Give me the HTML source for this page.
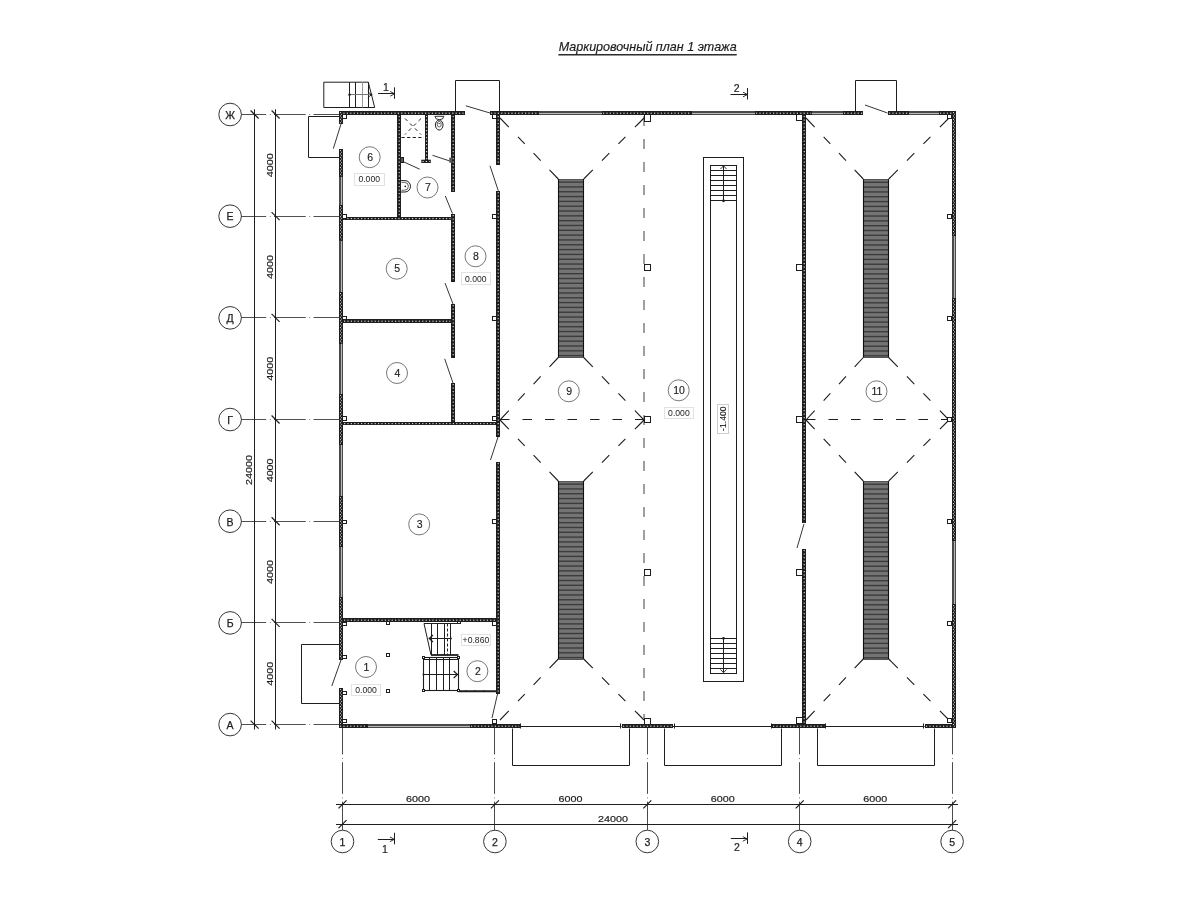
<!DOCTYPE html>
<html><head><meta charset="utf-8"><style>
html,body{margin:0;padding:0;background:#fff;width:1200px;height:900px;overflow:hidden}
svg{display:block;will-change:transform;font-family:"Liberation Sans",sans-serif}
</style></head><body>
<svg width="1200" height="900" viewBox="0 0 1200 900">
<line x1="234.50" y1="114.50" x2="339.00" y2="114.50" stroke="#505050" stroke-width="1.0" stroke-dasharray="31.7 3.7 0.7 3.4" stroke-linecap="butt"/>
<line x1="234.50" y1="216.50" x2="339.00" y2="216.50" stroke="#505050" stroke-width="1.0" stroke-dasharray="31.7 3.7 0.7 3.4" stroke-linecap="butt"/>
<line x1="234.50" y1="317.50" x2="339.00" y2="317.50" stroke="#505050" stroke-width="1.0" stroke-dasharray="31.7 3.7 0.7 3.4" stroke-linecap="butt"/>
<line x1="234.50" y1="419.50" x2="339.00" y2="419.50" stroke="#505050" stroke-width="1.0" stroke-dasharray="31.7 3.7 0.7 3.4" stroke-linecap="butt"/>
<line x1="234.50" y1="521.50" x2="339.00" y2="521.50" stroke="#505050" stroke-width="1.0" stroke-dasharray="31.7 3.7 0.7 3.4" stroke-linecap="butt"/>
<line x1="234.50" y1="622.50" x2="339.00" y2="622.50" stroke="#505050" stroke-width="1.0" stroke-dasharray="31.7 3.7 0.7 3.4" stroke-linecap="butt"/>
<line x1="234.50" y1="724.50" x2="339.00" y2="724.50" stroke="#505050" stroke-width="1.0" stroke-dasharray="31.7 3.7 0.7 3.4" stroke-linecap="butt"/>
<line x1="342.50" y1="722.70" x2="342.50" y2="830.00" stroke="#4a4a4a" stroke-width="1.0" stroke-dasharray="31.7 3.7 0.7 3.4" stroke-linecap="butt"/>
<line x1="494.50" y1="722.70" x2="494.50" y2="830.00" stroke="#4a4a4a" stroke-width="1.0" stroke-dasharray="31.7 3.7 0.7 3.4" stroke-linecap="butt"/>
<line x1="647.50" y1="722.70" x2="647.50" y2="830.00" stroke="#4a4a4a" stroke-width="1.0" stroke-dasharray="31.7 3.7 0.7 3.4" stroke-linecap="butt"/>
<line x1="799.50" y1="722.70" x2="799.50" y2="830.00" stroke="#4a4a4a" stroke-width="1.0" stroke-dasharray="31.7 3.7 0.7 3.4" stroke-linecap="butt"/>
<line x1="952.50" y1="722.70" x2="952.50" y2="830.00" stroke="#4a4a4a" stroke-width="1.0" stroke-dasharray="31.7 3.7 0.7 3.4" stroke-linecap="butt"/>
<line x1="254.50" y1="109.30" x2="254.50" y2="729.50" stroke="#1e1e1e" stroke-width="1.0" stroke-linecap="butt"/>
<line x1="275.50" y1="109.30" x2="275.50" y2="729.50" stroke="#1e1e1e" stroke-width="1.0" stroke-linecap="butt"/>
<line x1="271.60" y1="110.50" x2="279.60" y2="118.50" stroke="#1e1e1e" stroke-width="1.2" stroke-linecap="butt"/>
<line x1="271.60" y1="212.18" x2="279.60" y2="220.18" stroke="#1e1e1e" stroke-width="1.2" stroke-linecap="butt"/>
<line x1="271.60" y1="313.86" x2="279.60" y2="321.86" stroke="#1e1e1e" stroke-width="1.2" stroke-linecap="butt"/>
<line x1="271.60" y1="415.54" x2="279.60" y2="423.54" stroke="#1e1e1e" stroke-width="1.2" stroke-linecap="butt"/>
<line x1="271.60" y1="517.22" x2="279.60" y2="525.22" stroke="#1e1e1e" stroke-width="1.2" stroke-linecap="butt"/>
<line x1="271.60" y1="618.90" x2="279.60" y2="626.90" stroke="#1e1e1e" stroke-width="1.2" stroke-linecap="butt"/>
<line x1="271.60" y1="720.58" x2="279.60" y2="728.58" stroke="#1e1e1e" stroke-width="1.2" stroke-linecap="butt"/>
<line x1="250.60" y1="110.50" x2="258.60" y2="118.50" stroke="#1e1e1e" stroke-width="1.2" stroke-linecap="butt"/>
<line x1="250.60" y1="720.58" x2="258.60" y2="728.58" stroke="#1e1e1e" stroke-width="1.2" stroke-linecap="butt"/>
<text x="0" y="0" font-size="9.8" text-anchor="middle" dominant-baseline="central" transform="translate(269.50 165.34) rotate(-90) scale(1.1 1)" fill="#1e1e1e" stroke="#1e1e1e" stroke-width="0.2" >4000</text>
<text x="0" y="0" font-size="9.8" text-anchor="middle" dominant-baseline="central" transform="translate(269.50 267.02) rotate(-90) scale(1.1 1)" fill="#1e1e1e" stroke="#1e1e1e" stroke-width="0.2" >4000</text>
<text x="0" y="0" font-size="9.8" text-anchor="middle" dominant-baseline="central" transform="translate(269.50 368.70) rotate(-90) scale(1.1 1)" fill="#1e1e1e" stroke="#1e1e1e" stroke-width="0.2" >4000</text>
<text x="0" y="0" font-size="9.8" text-anchor="middle" dominant-baseline="central" transform="translate(269.50 470.38) rotate(-90) scale(1.1 1)" fill="#1e1e1e" stroke="#1e1e1e" stroke-width="0.2" >4000</text>
<text x="0" y="0" font-size="9.8" text-anchor="middle" dominant-baseline="central" transform="translate(269.50 572.06) rotate(-90) scale(1.1 1)" fill="#1e1e1e" stroke="#1e1e1e" stroke-width="0.2" >4000</text>
<text x="0" y="0" font-size="9.8" text-anchor="middle" dominant-baseline="central" transform="translate(269.50 673.74) rotate(-90) scale(1.1 1)" fill="#1e1e1e" stroke="#1e1e1e" stroke-width="0.2" >4000</text>
<text x="0" y="0" font-size="9.8" text-anchor="middle" dominant-baseline="central" transform="translate(249.00 470.00) rotate(-90) scale(1.1 1)" fill="#1e1e1e" stroke="#1e1e1e" stroke-width="0.2" >24000</text>
<line x1="336.00" y1="804.50" x2="958.00" y2="804.50" stroke="#1e1e1e" stroke-width="1.0" stroke-linecap="butt"/>
<line x1="336.00" y1="824.50" x2="958.00" y2="824.50" stroke="#1e1e1e" stroke-width="1.0" stroke-linecap="butt"/>
<line x1="338.50" y1="808.40" x2="346.50" y2="800.40" stroke="#1e1e1e" stroke-width="1.2" stroke-linecap="butt"/>
<line x1="490.90" y1="808.40" x2="498.90" y2="800.40" stroke="#1e1e1e" stroke-width="1.2" stroke-linecap="butt"/>
<line x1="643.30" y1="808.40" x2="651.30" y2="800.40" stroke="#1e1e1e" stroke-width="1.2" stroke-linecap="butt"/>
<line x1="795.70" y1="808.40" x2="803.70" y2="800.40" stroke="#1e1e1e" stroke-width="1.2" stroke-linecap="butt"/>
<line x1="948.10" y1="808.40" x2="956.10" y2="800.40" stroke="#1e1e1e" stroke-width="1.2" stroke-linecap="butt"/>
<line x1="338.50" y1="828.20" x2="346.50" y2="820.20" stroke="#1e1e1e" stroke-width="1.2" stroke-linecap="butt"/>
<line x1="948.10" y1="828.20" x2="956.10" y2="820.20" stroke="#1e1e1e" stroke-width="1.2" stroke-linecap="butt"/>
<text x="0" y="0" font-size="9.8" text-anchor="middle" dominant-baseline="central" transform="translate(418.00 798.80) scale(1.1 1)" fill="#1e1e1e" stroke="#1e1e1e" stroke-width="0.2" >6000</text>
<text x="0" y="0" font-size="9.8" text-anchor="middle" dominant-baseline="central" transform="translate(570.40 798.80) scale(1.1 1)" fill="#1e1e1e" stroke="#1e1e1e" stroke-width="0.2" >6000</text>
<text x="0" y="0" font-size="9.8" text-anchor="middle" dominant-baseline="central" transform="translate(722.80 798.80) scale(1.1 1)" fill="#1e1e1e" stroke="#1e1e1e" stroke-width="0.2" >6000</text>
<text x="0" y="0" font-size="9.8" text-anchor="middle" dominant-baseline="central" transform="translate(875.20 798.80) scale(1.1 1)" fill="#1e1e1e" stroke="#1e1e1e" stroke-width="0.2" >6000</text>
<text x="0" y="0" font-size="9.8" text-anchor="middle" dominant-baseline="central" transform="translate(613.00 818.80) scale(1.1 1)" fill="#1e1e1e" stroke="#1e1e1e" stroke-width="0.2" >24000</text>
<circle cx="230.1" cy="114.50" r="11.3" stroke="#1e1e1e" stroke-width="0.9" fill="#fff"/>
<text x="0" y="0" font-size="10.5" text-anchor="middle" dominant-baseline="central" transform="translate(230.10 114.80)" fill="#1e1e1e" stroke="#1e1e1e" stroke-width="0.25" >Ж</text>
<circle cx="230.1" cy="216.18" r="11.3" stroke="#1e1e1e" stroke-width="0.9" fill="#fff"/>
<text x="0" y="0" font-size="10.5" text-anchor="middle" dominant-baseline="central" transform="translate(230.10 216.48)" fill="#1e1e1e" stroke="#1e1e1e" stroke-width="0.25" >Е</text>
<circle cx="230.1" cy="317.86" r="11.3" stroke="#1e1e1e" stroke-width="0.9" fill="#fff"/>
<text x="0" y="0" font-size="10.5" text-anchor="middle" dominant-baseline="central" transform="translate(230.10 318.16)" fill="#1e1e1e" stroke="#1e1e1e" stroke-width="0.25" >Д</text>
<circle cx="230.1" cy="419.54" r="11.3" stroke="#1e1e1e" stroke-width="0.9" fill="#fff"/>
<text x="0" y="0" font-size="10.5" text-anchor="middle" dominant-baseline="central" transform="translate(230.10 419.84)" fill="#1e1e1e" stroke="#1e1e1e" stroke-width="0.25" >Г</text>
<circle cx="230.1" cy="521.22" r="11.3" stroke="#1e1e1e" stroke-width="0.9" fill="#fff"/>
<text x="0" y="0" font-size="10.5" text-anchor="middle" dominant-baseline="central" transform="translate(230.10 521.52)" fill="#1e1e1e" stroke="#1e1e1e" stroke-width="0.25" >В</text>
<circle cx="230.1" cy="622.90" r="11.3" stroke="#1e1e1e" stroke-width="0.9" fill="#fff"/>
<text x="0" y="0" font-size="10.5" text-anchor="middle" dominant-baseline="central" transform="translate(230.10 623.20)" fill="#1e1e1e" stroke="#1e1e1e" stroke-width="0.25" >Б</text>
<circle cx="230.1" cy="724.58" r="11.3" stroke="#1e1e1e" stroke-width="0.9" fill="#fff"/>
<text x="0" y="0" font-size="10.5" text-anchor="middle" dominant-baseline="central" transform="translate(230.10 724.88)" fill="#1e1e1e" stroke="#1e1e1e" stroke-width="0.25" >А</text>
<circle cx="342.50" cy="841.5" r="11.3" stroke="#1e1e1e" stroke-width="0.9" fill="#fff"/>
<text x="0" y="0" font-size="10.5" text-anchor="middle" dominant-baseline="central" transform="translate(342.50 841.80)" fill="#1e1e1e" stroke="#1e1e1e" stroke-width="0.25" >1</text>
<circle cx="494.90" cy="841.5" r="11.3" stroke="#1e1e1e" stroke-width="0.9" fill="#fff"/>
<text x="0" y="0" font-size="10.5" text-anchor="middle" dominant-baseline="central" transform="translate(494.90 841.80)" fill="#1e1e1e" stroke="#1e1e1e" stroke-width="0.25" >2</text>
<circle cx="647.30" cy="841.5" r="11.3" stroke="#1e1e1e" stroke-width="0.9" fill="#fff"/>
<text x="0" y="0" font-size="10.5" text-anchor="middle" dominant-baseline="central" transform="translate(647.30 841.80)" fill="#1e1e1e" stroke="#1e1e1e" stroke-width="0.25" >3</text>
<circle cx="799.70" cy="841.5" r="11.3" stroke="#1e1e1e" stroke-width="0.9" fill="#fff"/>
<text x="0" y="0" font-size="10.5" text-anchor="middle" dominant-baseline="central" transform="translate(799.70 841.80)" fill="#1e1e1e" stroke="#1e1e1e" stroke-width="0.25" >4</text>
<circle cx="952.10" cy="841.5" r="11.3" stroke="#1e1e1e" stroke-width="0.9" fill="#fff"/>
<text x="0" y="0" font-size="10.5" text-anchor="middle" dominant-baseline="central" transform="translate(952.10 841.80)" fill="#1e1e1e" stroke="#1e1e1e" stroke-width="0.25" >5</text>
<text x="647.7" y="47.1" stroke="#1e1e1e" stroke-width="0.2" font-size="12.55" text-anchor="middle" dominant-baseline="central" font-style="italic" fill="#1e1e1e" text-decoration="underline">Маркировочный план 1 этажа</text>
<line x1="644.00" y1="115.90" x2="644.00" y2="718.00" stroke="#888" stroke-width="1.6" stroke-dasharray="10 13" stroke-linecap="butt"/>
<line x1="500.00" y1="118.00" x2="558.30" y2="179.00" stroke="#1e1e1e" stroke-width="1.1" stroke-dasharray="12.76 13.25 9.81 12.76 10.30 12.76 12.76" stroke-linecap="butt"/>
<line x1="644.00" y1="118.00" x2="583.70" y2="179.00" stroke="#1e1e1e" stroke-width="1.1" stroke-dasharray="12.97 13.46 9.97 12.97 10.47 12.97 12.97" stroke-linecap="butt"/>
<line x1="500.00" y1="420.00" x2="558.30" y2="357.50" stroke="#1e1e1e" stroke-width="1.1" stroke-dasharray="12.92 13.42 9.94 12.92 10.44 12.92 12.92" stroke-linecap="butt"/>
<line x1="644.00" y1="420.00" x2="583.70" y2="357.50" stroke="#1e1e1e" stroke-width="1.1" stroke-dasharray="13.13 13.63 10.10 13.13 10.60 13.13 13.13" stroke-linecap="butt"/>
<line x1="500.00" y1="420.00" x2="558.30" y2="481.00" stroke="#1e1e1e" stroke-width="1.1" stroke-dasharray="12.76 13.25 9.81 12.76 10.30 12.76 12.76" stroke-linecap="butt"/>
<line x1="644.00" y1="420.00" x2="583.70" y2="481.00" stroke="#1e1e1e" stroke-width="1.1" stroke-dasharray="12.97 13.46 9.97 12.97 10.47 12.97 12.97" stroke-linecap="butt"/>
<line x1="500.00" y1="720.00" x2="558.30" y2="659.00" stroke="#1e1e1e" stroke-width="1.1" stroke-dasharray="12.76 13.25 9.81 12.76 10.30 12.76 12.76" stroke-linecap="butt"/>
<line x1="644.00" y1="720.00" x2="583.70" y2="659.00" stroke="#1e1e1e" stroke-width="1.1" stroke-dasharray="12.97 13.46 9.97 12.97 10.47 12.97 12.97" stroke-linecap="butt"/>
<line x1="500.00" y1="419.50" x2="644.00" y2="419.50" stroke="#1e1e1e" stroke-width="1.0" stroke-dasharray="9.5 13" stroke-linecap="butt"/>
<line x1="806.00" y1="118.00" x2="863.30" y2="179.00" stroke="#1e1e1e" stroke-width="1.1" stroke-dasharray="12.65 13.14 9.73 12.65 10.22 12.65 12.65" stroke-linecap="butt"/>
<line x1="949.00" y1="118.00" x2="888.70" y2="179.00" stroke="#1e1e1e" stroke-width="1.1" stroke-dasharray="12.97 13.46 9.97 12.97 10.47 12.97 12.97" stroke-linecap="butt"/>
<line x1="806.00" y1="420.00" x2="863.30" y2="357.50" stroke="#1e1e1e" stroke-width="1.1" stroke-dasharray="12.82 13.31 9.86 12.82 10.35 12.82 12.82" stroke-linecap="butt"/>
<line x1="949.00" y1="420.00" x2="888.70" y2="357.50" stroke="#1e1e1e" stroke-width="1.1" stroke-dasharray="13.13 13.63 10.10 13.13 10.60 13.13 13.13" stroke-linecap="butt"/>
<line x1="806.00" y1="420.00" x2="863.30" y2="481.00" stroke="#1e1e1e" stroke-width="1.1" stroke-dasharray="12.65 13.14 9.73 12.65 10.22 12.65 12.65" stroke-linecap="butt"/>
<line x1="949.00" y1="420.00" x2="888.70" y2="481.00" stroke="#1e1e1e" stroke-width="1.1" stroke-dasharray="12.97 13.46 9.97 12.97 10.47 12.97 12.97" stroke-linecap="butt"/>
<line x1="806.00" y1="720.00" x2="863.30" y2="659.00" stroke="#1e1e1e" stroke-width="1.1" stroke-dasharray="12.65 13.14 9.73 12.65 10.22 12.65 12.65" stroke-linecap="butt"/>
<line x1="949.00" y1="720.00" x2="888.70" y2="659.00" stroke="#1e1e1e" stroke-width="1.1" stroke-dasharray="12.97 13.46 9.97 12.97 10.47 12.97 12.97" stroke-linecap="butt"/>
<line x1="806.00" y1="419.50" x2="949.00" y2="419.50" stroke="#1e1e1e" stroke-width="1.0" stroke-dasharray="9.5 13" stroke-linecap="butt"/>
<rect x="558.30" y="179.00" width="25.40" height="178.50" fill="#747474"/>
<line x1="558.30" y1="182.10" x2="583.70" y2="182.10" stroke="#3c3c3c" stroke-width="1.4" stroke-linecap="butt"/>
<line x1="558.30" y1="186.92" x2="583.70" y2="186.92" stroke="#3c3c3c" stroke-width="1.4" stroke-linecap="butt"/>
<line x1="558.30" y1="191.74" x2="583.70" y2="191.74" stroke="#3c3c3c" stroke-width="1.4" stroke-linecap="butt"/>
<line x1="558.30" y1="196.56" x2="583.70" y2="196.56" stroke="#3c3c3c" stroke-width="1.4" stroke-linecap="butt"/>
<line x1="558.30" y1="201.38" x2="583.70" y2="201.38" stroke="#3c3c3c" stroke-width="1.4" stroke-linecap="butt"/>
<line x1="558.30" y1="206.20" x2="583.70" y2="206.20" stroke="#3c3c3c" stroke-width="1.4" stroke-linecap="butt"/>
<line x1="558.30" y1="211.02" x2="583.70" y2="211.02" stroke="#3c3c3c" stroke-width="1.4" stroke-linecap="butt"/>
<line x1="558.30" y1="215.84" x2="583.70" y2="215.84" stroke="#3c3c3c" stroke-width="1.4" stroke-linecap="butt"/>
<line x1="558.30" y1="220.66" x2="583.70" y2="220.66" stroke="#3c3c3c" stroke-width="1.4" stroke-linecap="butt"/>
<line x1="558.30" y1="225.48" x2="583.70" y2="225.48" stroke="#3c3c3c" stroke-width="1.4" stroke-linecap="butt"/>
<line x1="558.30" y1="230.30" x2="583.70" y2="230.30" stroke="#3c3c3c" stroke-width="1.4" stroke-linecap="butt"/>
<line x1="558.30" y1="235.12" x2="583.70" y2="235.12" stroke="#3c3c3c" stroke-width="1.4" stroke-linecap="butt"/>
<line x1="558.30" y1="239.94" x2="583.70" y2="239.94" stroke="#3c3c3c" stroke-width="1.4" stroke-linecap="butt"/>
<line x1="558.30" y1="244.76" x2="583.70" y2="244.76" stroke="#3c3c3c" stroke-width="1.4" stroke-linecap="butt"/>
<line x1="558.30" y1="249.58" x2="583.70" y2="249.58" stroke="#3c3c3c" stroke-width="1.4" stroke-linecap="butt"/>
<line x1="558.30" y1="254.40" x2="583.70" y2="254.40" stroke="#3c3c3c" stroke-width="1.4" stroke-linecap="butt"/>
<line x1="558.30" y1="259.22" x2="583.70" y2="259.22" stroke="#3c3c3c" stroke-width="1.4" stroke-linecap="butt"/>
<line x1="558.30" y1="264.04" x2="583.70" y2="264.04" stroke="#3c3c3c" stroke-width="1.4" stroke-linecap="butt"/>
<line x1="558.30" y1="268.86" x2="583.70" y2="268.86" stroke="#3c3c3c" stroke-width="1.4" stroke-linecap="butt"/>
<line x1="558.30" y1="273.68" x2="583.70" y2="273.68" stroke="#3c3c3c" stroke-width="1.4" stroke-linecap="butt"/>
<line x1="558.30" y1="278.50" x2="583.70" y2="278.50" stroke="#3c3c3c" stroke-width="1.4" stroke-linecap="butt"/>
<line x1="558.30" y1="283.32" x2="583.70" y2="283.32" stroke="#3c3c3c" stroke-width="1.4" stroke-linecap="butt"/>
<line x1="558.30" y1="288.14" x2="583.70" y2="288.14" stroke="#3c3c3c" stroke-width="1.4" stroke-linecap="butt"/>
<line x1="558.30" y1="292.96" x2="583.70" y2="292.96" stroke="#3c3c3c" stroke-width="1.4" stroke-linecap="butt"/>
<line x1="558.30" y1="297.78" x2="583.70" y2="297.78" stroke="#3c3c3c" stroke-width="1.4" stroke-linecap="butt"/>
<line x1="558.30" y1="302.60" x2="583.70" y2="302.60" stroke="#3c3c3c" stroke-width="1.4" stroke-linecap="butt"/>
<line x1="558.30" y1="307.42" x2="583.70" y2="307.42" stroke="#3c3c3c" stroke-width="1.4" stroke-linecap="butt"/>
<line x1="558.30" y1="312.24" x2="583.70" y2="312.24" stroke="#3c3c3c" stroke-width="1.4" stroke-linecap="butt"/>
<line x1="558.30" y1="317.06" x2="583.70" y2="317.06" stroke="#3c3c3c" stroke-width="1.4" stroke-linecap="butt"/>
<line x1="558.30" y1="321.88" x2="583.70" y2="321.88" stroke="#3c3c3c" stroke-width="1.4" stroke-linecap="butt"/>
<line x1="558.30" y1="326.70" x2="583.70" y2="326.70" stroke="#3c3c3c" stroke-width="1.4" stroke-linecap="butt"/>
<line x1="558.30" y1="331.52" x2="583.70" y2="331.52" stroke="#3c3c3c" stroke-width="1.4" stroke-linecap="butt"/>
<line x1="558.30" y1="336.34" x2="583.70" y2="336.34" stroke="#3c3c3c" stroke-width="1.4" stroke-linecap="butt"/>
<line x1="558.30" y1="341.16" x2="583.70" y2="341.16" stroke="#3c3c3c" stroke-width="1.4" stroke-linecap="butt"/>
<line x1="558.30" y1="345.98" x2="583.70" y2="345.98" stroke="#3c3c3c" stroke-width="1.4" stroke-linecap="butt"/>
<line x1="558.30" y1="350.80" x2="583.70" y2="350.80" stroke="#3c3c3c" stroke-width="1.4" stroke-linecap="butt"/>
<line x1="558.30" y1="355.62" x2="583.70" y2="355.62" stroke="#3c3c3c" stroke-width="1.4" stroke-linecap="butt"/>
<line x1="558.30" y1="179.50" x2="583.70" y2="179.50" stroke="#555" stroke-width="1.0" stroke-linecap="butt"/>
<line x1="558.30" y1="357.50" x2="583.70" y2="357.50" stroke="#555" stroke-width="1.0" stroke-linecap="butt"/>
<line x1="558.50" y1="179.00" x2="558.50" y2="357.50" stroke="#111" stroke-width="1.1" stroke-linecap="butt"/>
<line x1="583.50" y1="179.00" x2="583.50" y2="357.50" stroke="#111" stroke-width="1.1" stroke-linecap="butt"/>
<rect x="558.30" y="481.00" width="25.40" height="178.00" fill="#747474"/>
<line x1="558.30" y1="484.10" x2="583.70" y2="484.10" stroke="#3c3c3c" stroke-width="1.4" stroke-linecap="butt"/>
<line x1="558.30" y1="488.92" x2="583.70" y2="488.92" stroke="#3c3c3c" stroke-width="1.4" stroke-linecap="butt"/>
<line x1="558.30" y1="493.74" x2="583.70" y2="493.74" stroke="#3c3c3c" stroke-width="1.4" stroke-linecap="butt"/>
<line x1="558.30" y1="498.56" x2="583.70" y2="498.56" stroke="#3c3c3c" stroke-width="1.4" stroke-linecap="butt"/>
<line x1="558.30" y1="503.38" x2="583.70" y2="503.38" stroke="#3c3c3c" stroke-width="1.4" stroke-linecap="butt"/>
<line x1="558.30" y1="508.20" x2="583.70" y2="508.20" stroke="#3c3c3c" stroke-width="1.4" stroke-linecap="butt"/>
<line x1="558.30" y1="513.02" x2="583.70" y2="513.02" stroke="#3c3c3c" stroke-width="1.4" stroke-linecap="butt"/>
<line x1="558.30" y1="517.84" x2="583.70" y2="517.84" stroke="#3c3c3c" stroke-width="1.4" stroke-linecap="butt"/>
<line x1="558.30" y1="522.66" x2="583.70" y2="522.66" stroke="#3c3c3c" stroke-width="1.4" stroke-linecap="butt"/>
<line x1="558.30" y1="527.48" x2="583.70" y2="527.48" stroke="#3c3c3c" stroke-width="1.4" stroke-linecap="butt"/>
<line x1="558.30" y1="532.30" x2="583.70" y2="532.30" stroke="#3c3c3c" stroke-width="1.4" stroke-linecap="butt"/>
<line x1="558.30" y1="537.12" x2="583.70" y2="537.12" stroke="#3c3c3c" stroke-width="1.4" stroke-linecap="butt"/>
<line x1="558.30" y1="541.94" x2="583.70" y2="541.94" stroke="#3c3c3c" stroke-width="1.4" stroke-linecap="butt"/>
<line x1="558.30" y1="546.76" x2="583.70" y2="546.76" stroke="#3c3c3c" stroke-width="1.4" stroke-linecap="butt"/>
<line x1="558.30" y1="551.58" x2="583.70" y2="551.58" stroke="#3c3c3c" stroke-width="1.4" stroke-linecap="butt"/>
<line x1="558.30" y1="556.40" x2="583.70" y2="556.40" stroke="#3c3c3c" stroke-width="1.4" stroke-linecap="butt"/>
<line x1="558.30" y1="561.22" x2="583.70" y2="561.22" stroke="#3c3c3c" stroke-width="1.4" stroke-linecap="butt"/>
<line x1="558.30" y1="566.04" x2="583.70" y2="566.04" stroke="#3c3c3c" stroke-width="1.4" stroke-linecap="butt"/>
<line x1="558.30" y1="570.86" x2="583.70" y2="570.86" stroke="#3c3c3c" stroke-width="1.4" stroke-linecap="butt"/>
<line x1="558.30" y1="575.68" x2="583.70" y2="575.68" stroke="#3c3c3c" stroke-width="1.4" stroke-linecap="butt"/>
<line x1="558.30" y1="580.50" x2="583.70" y2="580.50" stroke="#3c3c3c" stroke-width="1.4" stroke-linecap="butt"/>
<line x1="558.30" y1="585.32" x2="583.70" y2="585.32" stroke="#3c3c3c" stroke-width="1.4" stroke-linecap="butt"/>
<line x1="558.30" y1="590.14" x2="583.70" y2="590.14" stroke="#3c3c3c" stroke-width="1.4" stroke-linecap="butt"/>
<line x1="558.30" y1="594.96" x2="583.70" y2="594.96" stroke="#3c3c3c" stroke-width="1.4" stroke-linecap="butt"/>
<line x1="558.30" y1="599.78" x2="583.70" y2="599.78" stroke="#3c3c3c" stroke-width="1.4" stroke-linecap="butt"/>
<line x1="558.30" y1="604.60" x2="583.70" y2="604.60" stroke="#3c3c3c" stroke-width="1.4" stroke-linecap="butt"/>
<line x1="558.30" y1="609.42" x2="583.70" y2="609.42" stroke="#3c3c3c" stroke-width="1.4" stroke-linecap="butt"/>
<line x1="558.30" y1="614.24" x2="583.70" y2="614.24" stroke="#3c3c3c" stroke-width="1.4" stroke-linecap="butt"/>
<line x1="558.30" y1="619.06" x2="583.70" y2="619.06" stroke="#3c3c3c" stroke-width="1.4" stroke-linecap="butt"/>
<line x1="558.30" y1="623.88" x2="583.70" y2="623.88" stroke="#3c3c3c" stroke-width="1.4" stroke-linecap="butt"/>
<line x1="558.30" y1="628.70" x2="583.70" y2="628.70" stroke="#3c3c3c" stroke-width="1.4" stroke-linecap="butt"/>
<line x1="558.30" y1="633.52" x2="583.70" y2="633.52" stroke="#3c3c3c" stroke-width="1.4" stroke-linecap="butt"/>
<line x1="558.30" y1="638.34" x2="583.70" y2="638.34" stroke="#3c3c3c" stroke-width="1.4" stroke-linecap="butt"/>
<line x1="558.30" y1="643.16" x2="583.70" y2="643.16" stroke="#3c3c3c" stroke-width="1.4" stroke-linecap="butt"/>
<line x1="558.30" y1="647.98" x2="583.70" y2="647.98" stroke="#3c3c3c" stroke-width="1.4" stroke-linecap="butt"/>
<line x1="558.30" y1="652.80" x2="583.70" y2="652.80" stroke="#3c3c3c" stroke-width="1.4" stroke-linecap="butt"/>
<line x1="558.30" y1="657.62" x2="583.70" y2="657.62" stroke="#3c3c3c" stroke-width="1.4" stroke-linecap="butt"/>
<line x1="558.30" y1="481.50" x2="583.70" y2="481.50" stroke="#555" stroke-width="1.0" stroke-linecap="butt"/>
<line x1="558.30" y1="659.50" x2="583.70" y2="659.50" stroke="#555" stroke-width="1.0" stroke-linecap="butt"/>
<line x1="558.50" y1="481.00" x2="558.50" y2="659.00" stroke="#111" stroke-width="1.1" stroke-linecap="butt"/>
<line x1="583.50" y1="481.00" x2="583.50" y2="659.00" stroke="#111" stroke-width="1.1" stroke-linecap="butt"/>
<rect x="863.30" y="179.20" width="25.40" height="178.30" fill="#747474"/>
<line x1="863.30" y1="182.30" x2="888.70" y2="182.30" stroke="#3c3c3c" stroke-width="1.4" stroke-linecap="butt"/>
<line x1="863.30" y1="187.12" x2="888.70" y2="187.12" stroke="#3c3c3c" stroke-width="1.4" stroke-linecap="butt"/>
<line x1="863.30" y1="191.94" x2="888.70" y2="191.94" stroke="#3c3c3c" stroke-width="1.4" stroke-linecap="butt"/>
<line x1="863.30" y1="196.76" x2="888.70" y2="196.76" stroke="#3c3c3c" stroke-width="1.4" stroke-linecap="butt"/>
<line x1="863.30" y1="201.58" x2="888.70" y2="201.58" stroke="#3c3c3c" stroke-width="1.4" stroke-linecap="butt"/>
<line x1="863.30" y1="206.40" x2="888.70" y2="206.40" stroke="#3c3c3c" stroke-width="1.4" stroke-linecap="butt"/>
<line x1="863.30" y1="211.22" x2="888.70" y2="211.22" stroke="#3c3c3c" stroke-width="1.4" stroke-linecap="butt"/>
<line x1="863.30" y1="216.04" x2="888.70" y2="216.04" stroke="#3c3c3c" stroke-width="1.4" stroke-linecap="butt"/>
<line x1="863.30" y1="220.86" x2="888.70" y2="220.86" stroke="#3c3c3c" stroke-width="1.4" stroke-linecap="butt"/>
<line x1="863.30" y1="225.68" x2="888.70" y2="225.68" stroke="#3c3c3c" stroke-width="1.4" stroke-linecap="butt"/>
<line x1="863.30" y1="230.50" x2="888.70" y2="230.50" stroke="#3c3c3c" stroke-width="1.4" stroke-linecap="butt"/>
<line x1="863.30" y1="235.32" x2="888.70" y2="235.32" stroke="#3c3c3c" stroke-width="1.4" stroke-linecap="butt"/>
<line x1="863.30" y1="240.14" x2="888.70" y2="240.14" stroke="#3c3c3c" stroke-width="1.4" stroke-linecap="butt"/>
<line x1="863.30" y1="244.96" x2="888.70" y2="244.96" stroke="#3c3c3c" stroke-width="1.4" stroke-linecap="butt"/>
<line x1="863.30" y1="249.78" x2="888.70" y2="249.78" stroke="#3c3c3c" stroke-width="1.4" stroke-linecap="butt"/>
<line x1="863.30" y1="254.60" x2="888.70" y2="254.60" stroke="#3c3c3c" stroke-width="1.4" stroke-linecap="butt"/>
<line x1="863.30" y1="259.42" x2="888.70" y2="259.42" stroke="#3c3c3c" stroke-width="1.4" stroke-linecap="butt"/>
<line x1="863.30" y1="264.24" x2="888.70" y2="264.24" stroke="#3c3c3c" stroke-width="1.4" stroke-linecap="butt"/>
<line x1="863.30" y1="269.06" x2="888.70" y2="269.06" stroke="#3c3c3c" stroke-width="1.4" stroke-linecap="butt"/>
<line x1="863.30" y1="273.88" x2="888.70" y2="273.88" stroke="#3c3c3c" stroke-width="1.4" stroke-linecap="butt"/>
<line x1="863.30" y1="278.70" x2="888.70" y2="278.70" stroke="#3c3c3c" stroke-width="1.4" stroke-linecap="butt"/>
<line x1="863.30" y1="283.52" x2="888.70" y2="283.52" stroke="#3c3c3c" stroke-width="1.4" stroke-linecap="butt"/>
<line x1="863.30" y1="288.34" x2="888.70" y2="288.34" stroke="#3c3c3c" stroke-width="1.4" stroke-linecap="butt"/>
<line x1="863.30" y1="293.16" x2="888.70" y2="293.16" stroke="#3c3c3c" stroke-width="1.4" stroke-linecap="butt"/>
<line x1="863.30" y1="297.98" x2="888.70" y2="297.98" stroke="#3c3c3c" stroke-width="1.4" stroke-linecap="butt"/>
<line x1="863.30" y1="302.80" x2="888.70" y2="302.80" stroke="#3c3c3c" stroke-width="1.4" stroke-linecap="butt"/>
<line x1="863.30" y1="307.62" x2="888.70" y2="307.62" stroke="#3c3c3c" stroke-width="1.4" stroke-linecap="butt"/>
<line x1="863.30" y1="312.44" x2="888.70" y2="312.44" stroke="#3c3c3c" stroke-width="1.4" stroke-linecap="butt"/>
<line x1="863.30" y1="317.26" x2="888.70" y2="317.26" stroke="#3c3c3c" stroke-width="1.4" stroke-linecap="butt"/>
<line x1="863.30" y1="322.08" x2="888.70" y2="322.08" stroke="#3c3c3c" stroke-width="1.4" stroke-linecap="butt"/>
<line x1="863.30" y1="326.90" x2="888.70" y2="326.90" stroke="#3c3c3c" stroke-width="1.4" stroke-linecap="butt"/>
<line x1="863.30" y1="331.72" x2="888.70" y2="331.72" stroke="#3c3c3c" stroke-width="1.4" stroke-linecap="butt"/>
<line x1="863.30" y1="336.54" x2="888.70" y2="336.54" stroke="#3c3c3c" stroke-width="1.4" stroke-linecap="butt"/>
<line x1="863.30" y1="341.36" x2="888.70" y2="341.36" stroke="#3c3c3c" stroke-width="1.4" stroke-linecap="butt"/>
<line x1="863.30" y1="346.18" x2="888.70" y2="346.18" stroke="#3c3c3c" stroke-width="1.4" stroke-linecap="butt"/>
<line x1="863.30" y1="351.00" x2="888.70" y2="351.00" stroke="#3c3c3c" stroke-width="1.4" stroke-linecap="butt"/>
<line x1="863.30" y1="355.82" x2="888.70" y2="355.82" stroke="#3c3c3c" stroke-width="1.4" stroke-linecap="butt"/>
<line x1="863.30" y1="179.50" x2="888.70" y2="179.50" stroke="#555" stroke-width="1.0" stroke-linecap="butt"/>
<line x1="863.30" y1="357.50" x2="888.70" y2="357.50" stroke="#555" stroke-width="1.0" stroke-linecap="butt"/>
<line x1="863.50" y1="179.20" x2="863.50" y2="357.50" stroke="#111" stroke-width="1.1" stroke-linecap="butt"/>
<line x1="888.50" y1="179.20" x2="888.50" y2="357.50" stroke="#111" stroke-width="1.1" stroke-linecap="butt"/>
<rect x="863.30" y="481.20" width="25.40" height="178.10" fill="#747474"/>
<line x1="863.30" y1="484.30" x2="888.70" y2="484.30" stroke="#3c3c3c" stroke-width="1.4" stroke-linecap="butt"/>
<line x1="863.30" y1="489.12" x2="888.70" y2="489.12" stroke="#3c3c3c" stroke-width="1.4" stroke-linecap="butt"/>
<line x1="863.30" y1="493.94" x2="888.70" y2="493.94" stroke="#3c3c3c" stroke-width="1.4" stroke-linecap="butt"/>
<line x1="863.30" y1="498.76" x2="888.70" y2="498.76" stroke="#3c3c3c" stroke-width="1.4" stroke-linecap="butt"/>
<line x1="863.30" y1="503.58" x2="888.70" y2="503.58" stroke="#3c3c3c" stroke-width="1.4" stroke-linecap="butt"/>
<line x1="863.30" y1="508.40" x2="888.70" y2="508.40" stroke="#3c3c3c" stroke-width="1.4" stroke-linecap="butt"/>
<line x1="863.30" y1="513.22" x2="888.70" y2="513.22" stroke="#3c3c3c" stroke-width="1.4" stroke-linecap="butt"/>
<line x1="863.30" y1="518.04" x2="888.70" y2="518.04" stroke="#3c3c3c" stroke-width="1.4" stroke-linecap="butt"/>
<line x1="863.30" y1="522.86" x2="888.70" y2="522.86" stroke="#3c3c3c" stroke-width="1.4" stroke-linecap="butt"/>
<line x1="863.30" y1="527.68" x2="888.70" y2="527.68" stroke="#3c3c3c" stroke-width="1.4" stroke-linecap="butt"/>
<line x1="863.30" y1="532.50" x2="888.70" y2="532.50" stroke="#3c3c3c" stroke-width="1.4" stroke-linecap="butt"/>
<line x1="863.30" y1="537.32" x2="888.70" y2="537.32" stroke="#3c3c3c" stroke-width="1.4" stroke-linecap="butt"/>
<line x1="863.30" y1="542.14" x2="888.70" y2="542.14" stroke="#3c3c3c" stroke-width="1.4" stroke-linecap="butt"/>
<line x1="863.30" y1="546.96" x2="888.70" y2="546.96" stroke="#3c3c3c" stroke-width="1.4" stroke-linecap="butt"/>
<line x1="863.30" y1="551.78" x2="888.70" y2="551.78" stroke="#3c3c3c" stroke-width="1.4" stroke-linecap="butt"/>
<line x1="863.30" y1="556.60" x2="888.70" y2="556.60" stroke="#3c3c3c" stroke-width="1.4" stroke-linecap="butt"/>
<line x1="863.30" y1="561.42" x2="888.70" y2="561.42" stroke="#3c3c3c" stroke-width="1.4" stroke-linecap="butt"/>
<line x1="863.30" y1="566.24" x2="888.70" y2="566.24" stroke="#3c3c3c" stroke-width="1.4" stroke-linecap="butt"/>
<line x1="863.30" y1="571.06" x2="888.70" y2="571.06" stroke="#3c3c3c" stroke-width="1.4" stroke-linecap="butt"/>
<line x1="863.30" y1="575.88" x2="888.70" y2="575.88" stroke="#3c3c3c" stroke-width="1.4" stroke-linecap="butt"/>
<line x1="863.30" y1="580.70" x2="888.70" y2="580.70" stroke="#3c3c3c" stroke-width="1.4" stroke-linecap="butt"/>
<line x1="863.30" y1="585.52" x2="888.70" y2="585.52" stroke="#3c3c3c" stroke-width="1.4" stroke-linecap="butt"/>
<line x1="863.30" y1="590.34" x2="888.70" y2="590.34" stroke="#3c3c3c" stroke-width="1.4" stroke-linecap="butt"/>
<line x1="863.30" y1="595.16" x2="888.70" y2="595.16" stroke="#3c3c3c" stroke-width="1.4" stroke-linecap="butt"/>
<line x1="863.30" y1="599.98" x2="888.70" y2="599.98" stroke="#3c3c3c" stroke-width="1.4" stroke-linecap="butt"/>
<line x1="863.30" y1="604.80" x2="888.70" y2="604.80" stroke="#3c3c3c" stroke-width="1.4" stroke-linecap="butt"/>
<line x1="863.30" y1="609.62" x2="888.70" y2="609.62" stroke="#3c3c3c" stroke-width="1.4" stroke-linecap="butt"/>
<line x1="863.30" y1="614.44" x2="888.70" y2="614.44" stroke="#3c3c3c" stroke-width="1.4" stroke-linecap="butt"/>
<line x1="863.30" y1="619.26" x2="888.70" y2="619.26" stroke="#3c3c3c" stroke-width="1.4" stroke-linecap="butt"/>
<line x1="863.30" y1="624.08" x2="888.70" y2="624.08" stroke="#3c3c3c" stroke-width="1.4" stroke-linecap="butt"/>
<line x1="863.30" y1="628.90" x2="888.70" y2="628.90" stroke="#3c3c3c" stroke-width="1.4" stroke-linecap="butt"/>
<line x1="863.30" y1="633.72" x2="888.70" y2="633.72" stroke="#3c3c3c" stroke-width="1.4" stroke-linecap="butt"/>
<line x1="863.30" y1="638.54" x2="888.70" y2="638.54" stroke="#3c3c3c" stroke-width="1.4" stroke-linecap="butt"/>
<line x1="863.30" y1="643.36" x2="888.70" y2="643.36" stroke="#3c3c3c" stroke-width="1.4" stroke-linecap="butt"/>
<line x1="863.30" y1="648.18" x2="888.70" y2="648.18" stroke="#3c3c3c" stroke-width="1.4" stroke-linecap="butt"/>
<line x1="863.30" y1="653.00" x2="888.70" y2="653.00" stroke="#3c3c3c" stroke-width="1.4" stroke-linecap="butt"/>
<line x1="863.30" y1="657.82" x2="888.70" y2="657.82" stroke="#3c3c3c" stroke-width="1.4" stroke-linecap="butt"/>
<line x1="863.30" y1="481.50" x2="888.70" y2="481.50" stroke="#555" stroke-width="1.0" stroke-linecap="butt"/>
<line x1="863.30" y1="659.50" x2="888.70" y2="659.50" stroke="#555" stroke-width="1.0" stroke-linecap="butt"/>
<line x1="863.50" y1="481.20" x2="863.50" y2="659.30" stroke="#111" stroke-width="1.1" stroke-linecap="butt"/>
<line x1="888.50" y1="481.20" x2="888.50" y2="659.30" stroke="#111" stroke-width="1.1" stroke-linecap="butt"/>
<rect x="703.50" y="157.50" width="40.00" height="524.00" stroke="#1e1e1e" stroke-width="1.0" fill="none"/>
<rect x="710.50" y="165.50" width="26.00" height="508.00" stroke="#1e1e1e" stroke-width="1.0" fill="none"/>
<line x1="710.50" y1="165.50" x2="736.40" y2="165.50" stroke="#1e1e1e" stroke-width="1.0" stroke-linecap="butt"/>
<line x1="710.50" y1="170.50" x2="736.40" y2="170.50" stroke="#1e1e1e" stroke-width="1.0" stroke-linecap="butt"/>
<line x1="710.50" y1="175.50" x2="736.40" y2="175.50" stroke="#1e1e1e" stroke-width="1.0" stroke-linecap="butt"/>
<line x1="710.50" y1="180.50" x2="736.40" y2="180.50" stroke="#1e1e1e" stroke-width="1.0" stroke-linecap="butt"/>
<line x1="710.50" y1="185.50" x2="736.40" y2="185.50" stroke="#1e1e1e" stroke-width="1.0" stroke-linecap="butt"/>
<line x1="710.50" y1="190.50" x2="736.40" y2="190.50" stroke="#1e1e1e" stroke-width="1.0" stroke-linecap="butt"/>
<line x1="710.50" y1="195.50" x2="736.40" y2="195.50" stroke="#1e1e1e" stroke-width="1.0" stroke-linecap="butt"/>
<line x1="710.50" y1="200.50" x2="736.40" y2="200.50" stroke="#1e1e1e" stroke-width="1.0" stroke-linecap="butt"/>
<line x1="710.50" y1="673.50" x2="736.40" y2="673.50" stroke="#1e1e1e" stroke-width="1.0" stroke-linecap="butt"/>
<line x1="710.50" y1="668.50" x2="736.40" y2="668.50" stroke="#1e1e1e" stroke-width="1.0" stroke-linecap="butt"/>
<line x1="710.50" y1="663.50" x2="736.40" y2="663.50" stroke="#1e1e1e" stroke-width="1.0" stroke-linecap="butt"/>
<line x1="710.50" y1="658.50" x2="736.40" y2="658.50" stroke="#1e1e1e" stroke-width="1.0" stroke-linecap="butt"/>
<line x1="710.50" y1="653.50" x2="736.40" y2="653.50" stroke="#1e1e1e" stroke-width="1.0" stroke-linecap="butt"/>
<line x1="710.50" y1="648.50" x2="736.40" y2="648.50" stroke="#1e1e1e" stroke-width="1.0" stroke-linecap="butt"/>
<line x1="710.50" y1="643.50" x2="736.40" y2="643.50" stroke="#1e1e1e" stroke-width="1.0" stroke-linecap="butt"/>
<line x1="710.50" y1="638.50" x2="736.40" y2="638.50" stroke="#1e1e1e" stroke-width="1.0" stroke-linecap="butt"/>
<line x1="723.50" y1="166.00" x2="723.50" y2="200.80" stroke="#1e1e1e" stroke-width="1.0" stroke-linecap="butt"/>
<circle cx="723.5" cy="200.8" r="1.4" fill="#1e1e1e"/>
<polyline points="720.50,169.00 723.50,165.80 726.50,169.00" stroke="#1e1e1e" stroke-width="0.9" fill="none"/>
<line x1="723.50" y1="638.30" x2="723.50" y2="672.50" stroke="#1e1e1e" stroke-width="1.0" stroke-linecap="butt"/>
<circle cx="723.5" cy="638.3" r="1.4" fill="#1e1e1e"/>
<polyline points="720.50,669.50 723.50,672.70 726.50,669.50" stroke="#1e1e1e" stroke-width="0.9" fill="none"/>
<rect x="717.50" y="404.00" width="10.80" height="29.30" fill="#fff"/>
<rect x="717.50" y="404.50" width="11.00" height="29.00" stroke="#ccc" stroke-width="1.0" fill="none"/>
<text x="0" y="0" font-size="8.6" text-anchor="middle" dominant-baseline="central" transform="translate(723.00 418.70) rotate(-90)" fill="#1e1e1e" stroke="#1e1e1e" stroke-width="0.1" >-1.400</text>
<polyline points="455.50,111.50 455.50,80.50 499.50,80.50 499.50,111.50" stroke="#1e1e1e" stroke-width="1.0" fill="none"/>
<polyline points="855.50,111.50 855.50,80.50 896.50,80.50 896.50,111.50" stroke="#1e1e1e" stroke-width="1.0" fill="none"/>
<polyline points="339.50,116.50 308.50,116.50 308.50,157.50 339.50,157.50" stroke="#1e1e1e" stroke-width="1.0" fill="none"/>
<polyline points="339.50,644.50 301.50,644.50 301.50,703.50 339.50,703.50" stroke="#1e1e1e" stroke-width="1.0" fill="none"/>
<polyline points="512.50,728.50 512.50,765.50 629.50,765.50 629.50,728.50" stroke="#1e1e1e" stroke-width="1.0" fill="none"/>
<polyline points="664.50,728.50 664.50,765.50 781.50,765.50 781.50,728.50" stroke="#1e1e1e" stroke-width="1.0" fill="none"/>
<polyline points="817.50,728.50 817.50,765.50 934.50,765.50 934.50,728.50" stroke="#1e1e1e" stroke-width="1.0" fill="none"/>
<polyline points="368.30,82.20 323.80,82.20 323.80,107.50 374.70,107.50 368.30,82.20" stroke="#1e1e1e" stroke-width="1.0" fill="none"/>
<line x1="349.50" y1="82.20" x2="349.50" y2="107.50" stroke="#1e1e1e" stroke-width="1.0" stroke-linecap="butt"/>
<line x1="355.50" y1="82.20" x2="355.50" y2="107.50" stroke="#1e1e1e" stroke-width="1.0" stroke-linecap="butt"/>
<line x1="368.50" y1="82.20" x2="368.50" y2="107.50" stroke="#1e1e1e" stroke-width="1.0" stroke-linecap="butt"/>
<line x1="362.50" y1="82.20" x2="362.50" y2="107.50" stroke="#999" stroke-width="1.0" stroke-linecap="butt"/>
<line x1="349.50" y1="94.50" x2="371.50" y2="94.50" stroke="#777" stroke-width="1.0" stroke-linecap="butt"/>
<circle cx="349.5" cy="94.7" r="1.2" fill="#1e1e1e"/>
<circle cx="371.2" cy="94.7" r="1.2" fill="#1e1e1e"/>
<polyline points="367.80,91.50 371.20,94.70 367.80,97.90" stroke="#1e1e1e" stroke-width="0.9" fill="none"/>
<line x1="378.00" y1="93.50" x2="394.70" y2="93.50" stroke="#1e1e1e" stroke-width="1.0" stroke-linecap="butt"/>
<line x1="394.50" y1="87.30" x2="394.50" y2="98.80" stroke="#1e1e1e" stroke-width="1.0" stroke-linecap="butt"/>
<polyline points="390.20,91.50 394.70,93.80 390.20,96.10" stroke="#1e1e1e" stroke-width="0.9" fill="none"/>
<text x="0" y="0" font-size="10.5" text-anchor="middle" dominant-baseline="central" transform="translate(385.80 87.20)" fill="#1e1e1e" stroke="#1e1e1e" stroke-width="0.2" >1</text>
<line x1="730.50" y1="94.50" x2="747.50" y2="94.50" stroke="#1e1e1e" stroke-width="1.0" stroke-linecap="butt"/>
<line x1="747.50" y1="88.00" x2="747.50" y2="99.50" stroke="#1e1e1e" stroke-width="1.0" stroke-linecap="butt"/>
<polyline points="743.00,92.20 747.50,94.50 743.00,96.80" stroke="#1e1e1e" stroke-width="0.9" fill="none"/>
<text x="0" y="0" font-size="10.5" text-anchor="middle" dominant-baseline="central" transform="translate(736.70 87.80)" fill="#1e1e1e" stroke="#1e1e1e" stroke-width="0.2" >2</text>
<line x1="377.80" y1="839.50" x2="394.40" y2="839.50" stroke="#1e1e1e" stroke-width="1.0" stroke-linecap="butt"/>
<line x1="394.50" y1="832.80" x2="394.50" y2="844.30" stroke="#1e1e1e" stroke-width="1.0" stroke-linecap="butt"/>
<polyline points="389.90,837.00 394.40,839.30 389.90,841.60" stroke="#1e1e1e" stroke-width="0.9" fill="none"/>
<text x="0" y="0" font-size="10.5" text-anchor="middle" dominant-baseline="central" transform="translate(385.00 848.50)" fill="#1e1e1e" stroke="#1e1e1e" stroke-width="0.2" >1</text>
<line x1="730.80" y1="838.50" x2="747.30" y2="838.50" stroke="#1e1e1e" stroke-width="1.0" stroke-linecap="butt"/>
<line x1="747.50" y1="832.40" x2="747.50" y2="843.90" stroke="#1e1e1e" stroke-width="1.0" stroke-linecap="butt"/>
<polyline points="742.80,836.60 747.30,838.90 742.80,841.20" stroke="#1e1e1e" stroke-width="0.9" fill="none"/>
<text x="0" y="0" font-size="10.5" text-anchor="middle" dominant-baseline="central" transform="translate(737.00 846.50)" fill="#1e1e1e" stroke="#1e1e1e" stroke-width="0.2" >2</text>
<rect x="339.00" y="111.00" width="126.00" height="4.00" fill="#1e1e1e"/>
<line x1="340.00" y1="113.20" x2="464.20" y2="113.20" stroke="#eee" stroke-width="1.0" stroke-dasharray="1.2 2.2"/>
<rect x="490.00" y="111.00" width="49.00" height="4.00" fill="#1e1e1e"/>
<line x1="491.00" y1="113.20" x2="538.20" y2="113.20" stroke="#eee" stroke-width="1.0" stroke-dasharray="1.2 2.2"/>
<rect x="539.00" y="111.00" width="63.00" height="4.00" fill="#4a4a4a"/>
<rect x="539.00" y="113.00" width="63.00" height="1.00" fill="#b8b8b8"/>
<rect x="602.00" y="111.00" width="90.00" height="4.00" fill="#1e1e1e"/>
<line x1="603.00" y1="113.20" x2="691.20" y2="113.20" stroke="#eee" stroke-width="1.0" stroke-dasharray="1.2 2.2"/>
<rect x="692.00" y="111.00" width="63.00" height="4.00" fill="#4a4a4a"/>
<rect x="692.00" y="113.00" width="63.00" height="1.00" fill="#b8b8b8"/>
<rect x="755.00" y="111.00" width="57.00" height="4.00" fill="#1e1e1e"/>
<line x1="756.00" y1="113.20" x2="811.20" y2="113.20" stroke="#eee" stroke-width="1.0" stroke-dasharray="1.2 2.2"/>
<rect x="812.00" y="111.00" width="31.00" height="4.00" fill="#4a4a4a"/>
<rect x="812.00" y="113.00" width="31.00" height="1.00" fill="#b8b8b8"/>
<rect x="843.00" y="111.00" width="20.00" height="4.00" fill="#1e1e1e"/>
<line x1="844.00" y1="113.20" x2="862.20" y2="113.20" stroke="#eee" stroke-width="1.0" stroke-dasharray="1.2 2.2"/>
<rect x="888.00" y="111.00" width="21.00" height="4.00" fill="#1e1e1e"/>
<line x1="889.00" y1="113.20" x2="908.20" y2="113.20" stroke="#eee" stroke-width="1.0" stroke-dasharray="1.2 2.2"/>
<rect x="909.00" y="111.00" width="30.00" height="4.00" fill="#4a4a4a"/>
<rect x="909.00" y="113.00" width="30.00" height="1.00" fill="#b8b8b8"/>
<rect x="939.00" y="111.00" width="17.00" height="4.00" fill="#1e1e1e"/>
<line x1="940.00" y1="113.20" x2="955.20" y2="113.20" stroke="#eee" stroke-width="1.0" stroke-dasharray="1.2 2.2"/>
<rect x="339.00" y="111.00" width="4.00" height="13.00" fill="#1e1e1e"/>
<line x1="340.50" y1="112.00" x2="340.50" y2="123.20" stroke="#f0f0f0" stroke-width="0.85" stroke-dasharray="1.1 2.3"/>
<line x1="341.50" y1="113.70" x2="341.50" y2="123.20" stroke="#c0c0c0" stroke-width="0.85" stroke-dasharray="1.1 2.3"/>
<rect x="339.00" y="149.00" width="4.00" height="28.00" fill="#1e1e1e"/>
<line x1="340.50" y1="150.00" x2="340.50" y2="176.20" stroke="#f0f0f0" stroke-width="0.85" stroke-dasharray="1.1 2.3"/>
<line x1="341.50" y1="151.70" x2="341.50" y2="176.20" stroke="#c0c0c0" stroke-width="0.85" stroke-dasharray="1.1 2.3"/>
<rect x="339.00" y="177.00" width="4.00" height="28.00" fill="#4a4a4a"/>
<rect x="341.00" y="177.00" width="1.00" height="28.00" fill="#b8b8b8"/>
<rect x="339.00" y="205.00" width="4.00" height="36.00" fill="#1e1e1e"/>
<line x1="340.50" y1="206.00" x2="340.50" y2="240.20" stroke="#f0f0f0" stroke-width="0.85" stroke-dasharray="1.1 2.3"/>
<line x1="341.50" y1="207.70" x2="341.50" y2="240.20" stroke="#c0c0c0" stroke-width="0.85" stroke-dasharray="1.1 2.3"/>
<rect x="339.00" y="241.00" width="4.00" height="51.00" fill="#4a4a4a"/>
<rect x="341.00" y="241.00" width="1.00" height="51.00" fill="#b8b8b8"/>
<rect x="339.00" y="292.00" width="4.00" height="52.00" fill="#1e1e1e"/>
<line x1="340.50" y1="293.00" x2="340.50" y2="343.20" stroke="#f0f0f0" stroke-width="0.85" stroke-dasharray="1.1 2.3"/>
<line x1="341.50" y1="294.70" x2="341.50" y2="343.20" stroke="#c0c0c0" stroke-width="0.85" stroke-dasharray="1.1 2.3"/>
<rect x="339.00" y="344.00" width="4.00" height="50.00" fill="#4a4a4a"/>
<rect x="341.00" y="344.00" width="1.00" height="50.00" fill="#b8b8b8"/>
<rect x="339.00" y="394.00" width="4.00" height="51.00" fill="#1e1e1e"/>
<line x1="340.50" y1="395.00" x2="340.50" y2="444.20" stroke="#f0f0f0" stroke-width="0.85" stroke-dasharray="1.1 2.3"/>
<line x1="341.50" y1="396.70" x2="341.50" y2="444.20" stroke="#c0c0c0" stroke-width="0.85" stroke-dasharray="1.1 2.3"/>
<rect x="339.00" y="445.00" width="4.00" height="51.00" fill="#4a4a4a"/>
<rect x="341.00" y="445.00" width="1.00" height="51.00" fill="#b8b8b8"/>
<rect x="339.00" y="496.00" width="4.00" height="51.00" fill="#1e1e1e"/>
<line x1="340.50" y1="497.00" x2="340.50" y2="546.20" stroke="#f0f0f0" stroke-width="0.85" stroke-dasharray="1.1 2.3"/>
<line x1="341.50" y1="498.70" x2="341.50" y2="546.20" stroke="#c0c0c0" stroke-width="0.85" stroke-dasharray="1.1 2.3"/>
<rect x="339.00" y="547.00" width="4.00" height="50.00" fill="#4a4a4a"/>
<rect x="341.00" y="547.00" width="1.00" height="50.00" fill="#b8b8b8"/>
<rect x="339.00" y="597.00" width="4.00" height="63.00" fill="#1e1e1e"/>
<line x1="340.50" y1="598.00" x2="340.50" y2="659.20" stroke="#f0f0f0" stroke-width="0.85" stroke-dasharray="1.1 2.3"/>
<line x1="341.50" y1="599.70" x2="341.50" y2="659.20" stroke="#c0c0c0" stroke-width="0.85" stroke-dasharray="1.1 2.3"/>
<rect x="339.00" y="688.00" width="4.00" height="40.00" fill="#1e1e1e"/>
<line x1="340.50" y1="689.00" x2="340.50" y2="727.20" stroke="#f0f0f0" stroke-width="0.85" stroke-dasharray="1.1 2.3"/>
<line x1="341.50" y1="690.70" x2="341.50" y2="727.20" stroke="#c0c0c0" stroke-width="0.85" stroke-dasharray="1.1 2.3"/>
<rect x="339.00" y="724.00" width="29.00" height="4.00" fill="#1e1e1e"/>
<line x1="340.00" y1="726.20" x2="367.20" y2="726.20" stroke="#eee" stroke-width="1.0" stroke-dasharray="1.2 2.2"/>
<rect x="368.00" y="724.00" width="102.00" height="4.00" fill="#4a4a4a"/>
<rect x="368.00" y="726.00" width="102.00" height="1.00" fill="#b8b8b8"/>
<rect x="470.00" y="724.00" width="50.00" height="4.00" fill="#1e1e1e"/>
<line x1="471.00" y1="726.20" x2="519.20" y2="726.20" stroke="#eee" stroke-width="1.0" stroke-dasharray="1.2 2.2"/>
<line x1="519.80" y1="726.50" x2="621.50" y2="726.50" stroke="#1e1e1e" stroke-width="1.0" stroke-linecap="butt"/>
<line x1="520.50" y1="723.50" x2="520.50" y2="728.50" stroke="#1e1e1e" stroke-width="1.0" stroke-linecap="butt"/>
<line x1="620.50" y1="723.50" x2="620.50" y2="728.50" stroke="#1e1e1e" stroke-width="1.0" stroke-linecap="butt"/>
<rect x="622.00" y="724.00" width="51.00" height="4.00" fill="#1e1e1e"/>
<line x1="623.00" y1="726.20" x2="672.20" y2="726.20" stroke="#eee" stroke-width="1.0" stroke-dasharray="1.2 2.2"/>
<line x1="673.00" y1="726.50" x2="772.00" y2="726.50" stroke="#1e1e1e" stroke-width="1.0" stroke-linecap="butt"/>
<line x1="674.50" y1="723.50" x2="674.50" y2="728.50" stroke="#1e1e1e" stroke-width="1.0" stroke-linecap="butt"/>
<line x1="771.50" y1="723.50" x2="771.50" y2="728.50" stroke="#1e1e1e" stroke-width="1.0" stroke-linecap="butt"/>
<rect x="772.00" y="724.00" width="53.00" height="4.00" fill="#1e1e1e"/>
<line x1="773.00" y1="726.20" x2="824.20" y2="726.20" stroke="#eee" stroke-width="1.0" stroke-dasharray="1.2 2.2"/>
<line x1="824.80" y1="726.50" x2="924.60" y2="726.50" stroke="#1e1e1e" stroke-width="1.0" stroke-linecap="butt"/>
<line x1="825.50" y1="723.50" x2="825.50" y2="728.50" stroke="#1e1e1e" stroke-width="1.0" stroke-linecap="butt"/>
<line x1="923.50" y1="723.50" x2="923.50" y2="728.50" stroke="#1e1e1e" stroke-width="1.0" stroke-linecap="butt"/>
<rect x="925.00" y="724.00" width="31.00" height="4.00" fill="#1e1e1e"/>
<line x1="926.00" y1="726.20" x2="955.20" y2="726.20" stroke="#eee" stroke-width="1.0" stroke-dasharray="1.2 2.2"/>
<rect x="952.00" y="111.00" width="4.00" height="125.00" fill="#1e1e1e"/>
<line x1="953.50" y1="112.00" x2="953.50" y2="235.20" stroke="#f0f0f0" stroke-width="0.85" stroke-dasharray="1.1 2.3"/>
<line x1="954.50" y1="113.70" x2="954.50" y2="235.20" stroke="#c0c0c0" stroke-width="0.85" stroke-dasharray="1.1 2.3"/>
<rect x="952.00" y="236.00" width="4.00" height="62.00" fill="#4a4a4a"/>
<rect x="954.00" y="236.00" width="1.00" height="62.00" fill="#b8b8b8"/>
<rect x="952.00" y="298.00" width="4.00" height="243.00" fill="#1e1e1e"/>
<line x1="953.50" y1="299.00" x2="953.50" y2="540.20" stroke="#f0f0f0" stroke-width="0.85" stroke-dasharray="1.1 2.3"/>
<line x1="954.50" y1="300.70" x2="954.50" y2="540.20" stroke="#c0c0c0" stroke-width="0.85" stroke-dasharray="1.1 2.3"/>
<rect x="952.00" y="541.00" width="4.00" height="63.00" fill="#4a4a4a"/>
<rect x="954.00" y="541.00" width="1.00" height="63.00" fill="#b8b8b8"/>
<rect x="952.00" y="604.00" width="4.00" height="124.00" fill="#1e1e1e"/>
<line x1="953.50" y1="605.00" x2="953.50" y2="727.20" stroke="#f0f0f0" stroke-width="0.85" stroke-dasharray="1.1 2.3"/>
<line x1="954.50" y1="606.70" x2="954.50" y2="727.20" stroke="#c0c0c0" stroke-width="0.85" stroke-dasharray="1.1 2.3"/>
<rect x="496.00" y="115.00" width="4.00" height="50.00" fill="#1e1e1e"/>
<line x1="498.20" y1="116.00" x2="498.20" y2="164.20" stroke="#eee" stroke-width="1.0" stroke-dasharray="1.2 2.3"/>
<rect x="496.00" y="191.00" width="4.00" height="246.00" fill="#1e1e1e"/>
<line x1="498.20" y1="192.00" x2="498.20" y2="436.20" stroke="#eee" stroke-width="1.0" stroke-dasharray="1.2 2.3"/>
<rect x="496.00" y="462.00" width="4.00" height="232.00" fill="#1e1e1e"/>
<line x1="498.20" y1="463.00" x2="498.20" y2="693.20" stroke="#eee" stroke-width="1.0" stroke-dasharray="1.2 2.3"/>
<line x1="490.00" y1="165.80" x2="498.30" y2="190.80" stroke="#1e1e1e" stroke-width="0.9" stroke-linecap="butt"/>
<line x1="498.00" y1="437.00" x2="490.50" y2="460.00" stroke="#1e1e1e" stroke-width="0.9" stroke-linecap="butt"/>
<line x1="497.50" y1="694.00" x2="492.00" y2="718.00" stroke="#1e1e1e" stroke-width="0.9" stroke-linecap="butt"/>
<rect x="802.00" y="115.00" width="4.00" height="408.00" fill="#1e1e1e"/>
<line x1="804.20" y1="116.00" x2="804.20" y2="522.20" stroke="#eee" stroke-width="1.0" stroke-dasharray="1.2 2.3"/>
<rect x="802.00" y="549.00" width="4.00" height="175.00" fill="#1e1e1e"/>
<line x1="804.20" y1="550.00" x2="804.20" y2="723.20" stroke="#eee" stroke-width="1.0" stroke-dasharray="1.2 2.3"/>
<line x1="804.00" y1="524.00" x2="797.00" y2="548.00" stroke="#1e1e1e" stroke-width="0.9" stroke-linecap="butt"/>
<rect x="343.00" y="217.00" width="112.00" height="3.00" fill="#1e1e1e"/>
<line x1="344.00" y1="218.65" x2="454.20" y2="218.65" stroke="#eee" stroke-width="1.0" stroke-dasharray="1.2 2.2"/>
<rect x="343.00" y="319.00" width="108.00" height="4.00" fill="#1e1e1e"/>
<line x1="344.00" y1="321.20" x2="450.20" y2="321.20" stroke="#eee" stroke-width="1.0" stroke-dasharray="1.2 2.2"/>
<rect x="343.00" y="422.00" width="153.00" height="3.00" fill="#1e1e1e"/>
<line x1="344.00" y1="423.65" x2="495.20" y2="423.65" stroke="#eee" stroke-width="1.0" stroke-dasharray="1.2 2.2"/>
<rect x="343.00" y="618.00" width="153.00" height="4.00" fill="#1e1e1e"/>
<line x1="344.00" y1="620.20" x2="495.20" y2="620.20" stroke="#eee" stroke-width="1.0" stroke-dasharray="1.2 2.2"/>
<rect x="451.00" y="115.00" width="4.00" height="77.00" fill="#1e1e1e"/>
<line x1="453.20" y1="116.00" x2="453.20" y2="191.20" stroke="#eee" stroke-width="1.0" stroke-dasharray="1.2 2.3"/>
<rect x="451.00" y="214.00" width="4.00" height="68.00" fill="#1e1e1e"/>
<line x1="453.20" y1="215.00" x2="453.20" y2="281.20" stroke="#eee" stroke-width="1.0" stroke-dasharray="1.2 2.3"/>
<rect x="451.00" y="304.00" width="4.00" height="54.00" fill="#1e1e1e"/>
<line x1="453.20" y1="305.00" x2="453.20" y2="357.20" stroke="#eee" stroke-width="1.0" stroke-dasharray="1.2 2.3"/>
<rect x="451.00" y="383.00" width="4.00" height="39.00" fill="#1e1e1e"/>
<line x1="453.20" y1="384.00" x2="453.20" y2="421.20" stroke="#eee" stroke-width="1.0" stroke-dasharray="1.2 2.3"/>
<line x1="445.30" y1="196.00" x2="452.50" y2="213.70" stroke="#1e1e1e" stroke-width="0.9" stroke-linecap="butt"/>
<line x1="445.00" y1="283.00" x2="453.00" y2="304.00" stroke="#1e1e1e" stroke-width="0.9" stroke-linecap="butt"/>
<line x1="444.70" y1="358.80" x2="453.00" y2="383.00" stroke="#1e1e1e" stroke-width="0.9" stroke-linecap="butt"/>
<rect x="397.00" y="115.00" width="4.00" height="102.00" fill="#1e1e1e"/>
<line x1="399.20" y1="116.00" x2="399.20" y2="216.20" stroke="#eee" stroke-width="1.0" stroke-dasharray="1.2 2.3"/>
<rect x="425.00" y="115.00" width="3.00" height="47.00" fill="#1e1e1e"/>
<line x1="426.65" y1="116.00" x2="426.65" y2="161.20" stroke="#eee" stroke-width="1.0" stroke-dasharray="1.2 2.3"/>
<rect x="421.30" y="159.70" width="9.50" height="3.30" fill="#1e1e1e"/>
<line x1="422.50" y1="161.50" x2="429.80" y2="161.50" stroke="#fff" stroke-width="1.0" stroke-dasharray="1.1 2.2" stroke-linecap="butt"/>
<line x1="403.30" y1="161.70" x2="419.70" y2="169.20" stroke="#1e1e1e" stroke-width="0.9" stroke-linecap="butt"/>
<line x1="432.50" y1="155.30" x2="449.20" y2="160.80" stroke="#1e1e1e" stroke-width="0.9" stroke-linecap="butt"/>
<rect x="400.80" y="157.60" width="3.00" height="5.10" fill="#555"/>
<rect x="400.50" y="157.50" width="3.00" height="5.00" stroke="#1e1e1e" stroke-width="1.0" fill="none"/>
<rect x="449.20" y="157.60" width="3.10" height="5.10" fill="#555"/>
<line x1="401.50" y1="137.50" x2="424.00" y2="137.50" stroke="#1e1e1e" stroke-width="1.0" stroke-dasharray="3.2 2.4" stroke-linecap="butt"/>
<line x1="405.00" y1="118.50" x2="421.00" y2="134.50" stroke="#1e1e1e" stroke-width="1.0" stroke-dasharray="3.5 3.5" stroke-linecap="butt"/>
<line x1="421.00" y1="118.50" x2="405.00" y2="134.50" stroke="#1e1e1e" stroke-width="1.0" stroke-dasharray="3.5 3.5" stroke-linecap="butt"/>
<path d="M434.9,116.3 L443.9,116.3 Q443.5,119.6 439.4,119.8 Q435.3,119.6 434.9,116.3 Z" stroke="#1e1e1e" stroke-width="0.9" fill="#fff"/>
<ellipse cx="439.2" cy="125.0" rx="3.8" ry="5.0" stroke="#1e1e1e" stroke-width="1.0" fill="#fff"/>
<ellipse cx="439.2" cy="124.2" rx="2.0" ry="2.8" stroke="#1e1e1e" stroke-width="0.7" fill="none"/>
<circle cx="439.2" cy="123.6" r="0.7" fill="#1e1e1e"/>
<path d="M401.0,180.6 L405.0,180.6 A5.5,5.7 0 0 1 405.0,192.0 L401.0,192.0" stroke="#1e1e1e" stroke-width="1.0" fill="#fff"/>
<path d="M401.5,182.4 L404.6,182.4 A3.8,3.9 0 0 1 404.6,190.2 L401.5,190.2" stroke="#1e1e1e" stroke-width="0.7" fill="none"/>
<circle cx="405.3" cy="186.3" r="0.9" fill="#1e1e1e"/>
<line x1="341.00" y1="124.00" x2="333.30" y2="148.70" stroke="#1e1e1e" stroke-width="0.9" stroke-linecap="butt"/>
<line x1="341.00" y1="660.00" x2="331.80" y2="686.00" stroke="#1e1e1e" stroke-width="0.9" stroke-linecap="butt"/>
<line x1="465.80" y1="105.80" x2="490.00" y2="113.00" stroke="#1e1e1e" stroke-width="0.9" stroke-linecap="butt"/>
<line x1="865.00" y1="105.00" x2="887.50" y2="113.00" stroke="#1e1e1e" stroke-width="0.9" stroke-linecap="butt"/>
<line x1="424.00" y1="623.50" x2="457.50" y2="623.50" stroke="#1e1e1e" stroke-width="1.0" stroke-linecap="butt"/>
<line x1="424.00" y1="623.50" x2="431.00" y2="655.00" stroke="#1e1e1e" stroke-width="1.0" stroke-linecap="butt"/>
<line x1="431.50" y1="623.50" x2="431.50" y2="655.00" stroke="#1e1e1e" stroke-width="1.0" stroke-linecap="butt"/>
<line x1="437.50" y1="623.50" x2="437.50" y2="655.00" stroke="#1e1e1e" stroke-width="1.0" stroke-linecap="butt"/>
<line x1="444.50" y1="623.50" x2="444.50" y2="655.00" stroke="#1e1e1e" stroke-width="1.0" stroke-linecap="butt"/>
<line x1="450.50" y1="623.50" x2="450.50" y2="655.00" stroke="#1e1e1e" stroke-width="1.0" stroke-linecap="butt"/>
<line x1="447.50" y1="623.50" x2="447.50" y2="655.00" stroke="#1e1e1e" stroke-width="1.0" stroke-dasharray="3 2" stroke-linecap="butt"/>
<line x1="431.00" y1="655.00" x2="458.50" y2="655.00" stroke="#1e1e1e" stroke-width="1.8" stroke-linecap="butt"/>
<line x1="429.00" y1="638.50" x2="450.90" y2="638.50" stroke="#1e1e1e" stroke-width="1.0" stroke-linecap="butt"/>
<circle cx="450.9" cy="638.5" r="1.0" fill="#1e1e1e"/>
<polyline points="433.00,635.00 429.20,638.50 433.00,642.00" stroke="#1e1e1e" stroke-width="1.2" fill="none"/>
<rect x="423.50" y="657.50" width="35.00" height="33.00" stroke="#1e1e1e" stroke-width="1.1" fill="none"/>
<line x1="423.50" y1="659.50" x2="458.50" y2="659.50" stroke="#1e1e1e" stroke-width="1.0" stroke-linecap="butt"/>
<line x1="429.50" y1="657.50" x2="429.50" y2="690.50" stroke="#1e1e1e" stroke-width="1.0" stroke-linecap="butt"/>
<line x1="436.50" y1="657.50" x2="436.50" y2="690.50" stroke="#1e1e1e" stroke-width="1.0" stroke-linecap="butt"/>
<line x1="443.50" y1="657.50" x2="443.50" y2="690.50" stroke="#1e1e1e" stroke-width="1.0" stroke-linecap="butt"/>
<line x1="449.50" y1="657.50" x2="449.50" y2="690.50" stroke="#1e1e1e" stroke-width="1.0" stroke-linecap="butt"/>
<line x1="423.50" y1="674.50" x2="457.50" y2="674.50" stroke="#1e1e1e" stroke-width="1.0" stroke-linecap="butt"/>
<circle cx="423.5" cy="674.5" r="1.0" fill="#1e1e1e"/>
<polyline points="453.70,671.00 457.50,674.50 453.70,678.00" stroke="#1e1e1e" stroke-width="1.2" fill="none"/>
<line x1="458.50" y1="691.20" x2="496.50" y2="691.20" stroke="#1e1e1e" stroke-width="2.0" stroke-linecap="butt"/>
<rect x="422.50" y="656.50" width="2.00" height="2.00" stroke="#1e1e1e" stroke-width="1.0" fill="#fff"/>
<rect x="457.50" y="656.50" width="2.00" height="2.00" stroke="#1e1e1e" stroke-width="1.0" fill="#fff"/>
<rect x="422.50" y="689.50" width="2.00" height="2.00" stroke="#1e1e1e" stroke-width="1.0" fill="#fff"/>
<rect x="457.50" y="689.50" width="2.00" height="2.00" stroke="#1e1e1e" stroke-width="1.0" fill="#fff"/>
<rect x="457.50" y="621.50" width="3.00" height="2.00" stroke="#1e1e1e" stroke-width="1.0" fill="#fff"/>
<circle cx="466" cy="691" r="0.8" fill="#1e1e1e"/>
<circle cx="475" cy="691" r="0.8" fill="#1e1e1e"/>
<circle cx="484" cy="691" r="0.8" fill="#1e1e1e"/>
<rect x="492.50" y="114.50" width="4.00" height="4.00" stroke="#1e1e1e" stroke-width="1.0" fill="#fff"/>
<rect x="492.50" y="214.50" width="4.00" height="4.00" stroke="#1e1e1e" stroke-width="1.0" fill="#fff"/>
<rect x="492.50" y="316.50" width="4.00" height="4.00" stroke="#1e1e1e" stroke-width="1.0" fill="#fff"/>
<rect x="492.50" y="416.50" width="4.00" height="4.00" stroke="#1e1e1e" stroke-width="1.0" fill="#fff"/>
<rect x="492.50" y="519.50" width="4.00" height="4.00" stroke="#1e1e1e" stroke-width="1.0" fill="#fff"/>
<rect x="492.50" y="621.50" width="4.00" height="4.00" stroke="#1e1e1e" stroke-width="1.0" fill="#fff"/>
<rect x="492.50" y="719.50" width="4.00" height="4.00" stroke="#1e1e1e" stroke-width="1.0" fill="#fff"/>
<rect x="644.50" y="114.50" width="6.00" height="7.00" stroke="#1e1e1e" stroke-width="1.0" fill="#fff"/>
<rect x="644.50" y="264.50" width="6.00" height="6.00" stroke="#1e1e1e" stroke-width="1.0" fill="#fff"/>
<rect x="644.50" y="416.50" width="6.00" height="6.00" stroke="#1e1e1e" stroke-width="1.0" fill="#fff"/>
<rect x="644.50" y="569.50" width="6.00" height="6.00" stroke="#1e1e1e" stroke-width="1.0" fill="#fff"/>
<rect x="644.50" y="718.50" width="6.00" height="6.00" stroke="#1e1e1e" stroke-width="1.0" fill="#fff"/>
<rect x="796.50" y="114.50" width="6.00" height="6.00" stroke="#1e1e1e" stroke-width="1.0" fill="#fff"/>
<rect x="796.50" y="264.50" width="6.00" height="6.00" stroke="#1e1e1e" stroke-width="1.0" fill="#fff"/>
<rect x="796.50" y="416.50" width="6.00" height="6.00" stroke="#1e1e1e" stroke-width="1.0" fill="#fff"/>
<rect x="796.50" y="569.50" width="6.00" height="6.00" stroke="#1e1e1e" stroke-width="1.0" fill="#fff"/>
<rect x="796.50" y="717.50" width="6.00" height="6.00" stroke="#1e1e1e" stroke-width="1.0" fill="#fff"/>
<rect x="947.50" y="114.50" width="4.00" height="4.00" stroke="#1e1e1e" stroke-width="1.0" fill="#fff"/>
<rect x="947.50" y="214.50" width="4.00" height="4.00" stroke="#1e1e1e" stroke-width="1.0" fill="#fff"/>
<rect x="947.50" y="316.50" width="4.00" height="4.00" stroke="#1e1e1e" stroke-width="1.0" fill="#fff"/>
<rect x="947.50" y="417.50" width="4.00" height="4.00" stroke="#1e1e1e" stroke-width="1.0" fill="#fff"/>
<rect x="947.50" y="519.50" width="4.00" height="4.00" stroke="#1e1e1e" stroke-width="1.0" fill="#fff"/>
<rect x="947.50" y="621.50" width="4.00" height="4.00" stroke="#1e1e1e" stroke-width="1.0" fill="#fff"/>
<rect x="947.50" y="718.50" width="4.00" height="4.00" stroke="#1e1e1e" stroke-width="1.0" fill="#fff"/>
<rect x="342.50" y="114.50" width="4.00" height="4.00" stroke="#1e1e1e" stroke-width="1.0" fill="#fff"/>
<rect x="342.50" y="214.50" width="4.00" height="4.00" stroke="#1e1e1e" stroke-width="1.0" fill="#fff"/>
<rect x="342.50" y="316.50" width="4.00" height="3.00" stroke="#1e1e1e" stroke-width="1.0" fill="#fff"/>
<rect x="342.50" y="416.50" width="4.00" height="4.00" stroke="#1e1e1e" stroke-width="1.0" fill="#fff"/>
<rect x="342.50" y="520.50" width="4.00" height="3.00" stroke="#1e1e1e" stroke-width="1.0" fill="#fff"/>
<rect x="342.50" y="622.50" width="4.00" height="3.00" stroke="#1e1e1e" stroke-width="1.0" fill="#fff"/>
<rect x="342.50" y="655.50" width="4.00" height="3.00" stroke="#1e1e1e" stroke-width="1.0" fill="#fff"/>
<rect x="342.50" y="691.50" width="4.00" height="3.00" stroke="#1e1e1e" stroke-width="1.0" fill="#fff"/>
<rect x="342.50" y="719.50" width="4.00" height="3.00" stroke="#1e1e1e" stroke-width="1.0" fill="#fff"/>
<rect x="386.50" y="621.50" width="3.00" height="3.00" stroke="#1e1e1e" stroke-width="1.0" fill="#fff"/>
<rect x="386.50" y="653.50" width="3.00" height="3.00" stroke="#1e1e1e" stroke-width="1.0" fill="#fff"/>
<rect x="386.50" y="689.50" width="3.00" height="3.00" stroke="#1e1e1e" stroke-width="1.0" fill="#fff"/>
<circle cx="369.70" cy="157.20" r="10.5" stroke="#555" stroke-width="0.8" fill="#fff"/>
<text x="0" y="0" font-size="10.5" text-anchor="middle" dominant-baseline="central" transform="translate(370.10 156.90)" fill="#1e1e1e" stroke="#1e1e1e" stroke-width="0.15" >6</text>
<rect x="354.20" y="173.30" width="30.00" height="11.70" fill="#fff"/>
<rect x="354.50" y="173.50" width="30.00" height="12.00" stroke="#e2e2e2" stroke-width="1.0" fill="none"/>
<text x="0" y="0" font-size="9.4" text-anchor="middle" dominant-baseline="central" transform="translate(369.20 179.35) scale(0.92 1)" fill="#1e1e1e" >0.000</text>
<circle cx="427.50" cy="187.50" r="10.5" stroke="#555" stroke-width="0.8" fill="#fff"/>
<text x="0" y="0" font-size="10.5" text-anchor="middle" dominant-baseline="central" transform="translate(427.90 187.20)" fill="#1e1e1e" stroke="#1e1e1e" stroke-width="0.15" >7</text>
<circle cx="475.50" cy="256.30" r="10.5" stroke="#555" stroke-width="0.8" fill="#fff"/>
<text x="0" y="0" font-size="10.5" text-anchor="middle" dominant-baseline="central" transform="translate(475.90 256.00)" fill="#1e1e1e" stroke="#1e1e1e" stroke-width="0.15" >8</text>
<rect x="461.30" y="272.80" width="29.00" height="11.70" fill="#fff"/>
<rect x="461.50" y="272.50" width="29.00" height="12.00" stroke="#e2e2e2" stroke-width="1.0" fill="none"/>
<text x="0" y="0" font-size="9.4" text-anchor="middle" dominant-baseline="central" transform="translate(475.80 278.85) scale(0.92 1)" fill="#1e1e1e" >0.000</text>
<circle cx="396.70" cy="268.70" r="10.5" stroke="#555" stroke-width="0.8" fill="#fff"/>
<text x="0" y="0" font-size="10.5" text-anchor="middle" dominant-baseline="central" transform="translate(397.10 268.40)" fill="#1e1e1e" stroke="#1e1e1e" stroke-width="0.15" >5</text>
<circle cx="397.00" cy="373.00" r="10.5" stroke="#555" stroke-width="0.8" fill="#fff"/>
<text x="0" y="0" font-size="10.5" text-anchor="middle" dominant-baseline="central" transform="translate(397.40 372.70)" fill="#1e1e1e" stroke="#1e1e1e" stroke-width="0.15" >4</text>
<circle cx="419.20" cy="524.40" r="10.5" stroke="#555" stroke-width="0.8" fill="#fff"/>
<text x="0" y="0" font-size="10.5" text-anchor="middle" dominant-baseline="central" transform="translate(419.60 524.10)" fill="#1e1e1e" stroke="#1e1e1e" stroke-width="0.15" >3</text>
<circle cx="366.00" cy="667.00" r="10.5" stroke="#555" stroke-width="0.8" fill="#fff"/>
<text x="0" y="0" font-size="10.5" text-anchor="middle" dominant-baseline="central" transform="translate(366.40 666.70)" fill="#1e1e1e" stroke="#1e1e1e" stroke-width="0.15" >1</text>
<rect x="351.40" y="684.00" width="29.40" height="11.40" fill="#fff"/>
<rect x="351.50" y="684.50" width="29.00" height="11.00" stroke="#e2e2e2" stroke-width="1.0" fill="none"/>
<text x="0" y="0" font-size="9.4" text-anchor="middle" dominant-baseline="central" transform="translate(366.10 689.90) scale(0.92 1)" fill="#1e1e1e" >0.000</text>
<circle cx="477.40" cy="671.20" r="10.5" stroke="#555" stroke-width="0.8" fill="#fff"/>
<text x="0" y="0" font-size="10.5" text-anchor="middle" dominant-baseline="central" transform="translate(477.80 670.90)" fill="#1e1e1e" stroke="#1e1e1e" stroke-width="0.15" >2</text>
<rect x="461.40" y="634.60" width="29.00" height="10.40" fill="#fff"/>
<rect x="461.50" y="634.50" width="29.00" height="11.00" stroke="#e2e2e2" stroke-width="1.0" fill="none"/>
<text x="0" y="0" font-size="9.4" text-anchor="middle" dominant-baseline="central" transform="translate(475.90 640.00) scale(0.92 1)" fill="#1e1e1e" >+0.860</text>
<circle cx="568.80" cy="391.30" r="10.5" stroke="#555" stroke-width="0.8" fill="#fff"/>
<text x="0" y="0" font-size="10.5" text-anchor="middle" dominant-baseline="central" transform="translate(569.20 391.00)" fill="#1e1e1e" stroke="#1e1e1e" stroke-width="0.15" >9</text>
<circle cx="678.70" cy="390.30" r="10.5" stroke="#555" stroke-width="0.8" fill="#fff"/>
<text x="0" y="0" font-size="10.5" text-anchor="middle" dominant-baseline="central" transform="translate(679.10 390.00)" fill="#1e1e1e" stroke="#1e1e1e" stroke-width="0.15" >10</text>
<rect x="664.50" y="407.50" width="28.80" height="10.80" fill="#fff"/>
<rect x="664.50" y="407.50" width="29.00" height="11.00" stroke="#e2e2e2" stroke-width="1.0" fill="none"/>
<text x="0" y="0" font-size="9.4" text-anchor="middle" dominant-baseline="central" transform="translate(678.90 413.10) scale(0.92 1)" fill="#1e1e1e" >0.000</text>
<circle cx="876.50" cy="391.30" r="10.5" stroke="#555" stroke-width="0.8" fill="#fff"/>
<text x="0" y="0" font-size="10.5" text-anchor="middle" dominant-baseline="central" transform="translate(876.90 391.00)" fill="#1e1e1e" stroke="#1e1e1e" stroke-width="0.15" >11</text>
</svg>
</body></html>
